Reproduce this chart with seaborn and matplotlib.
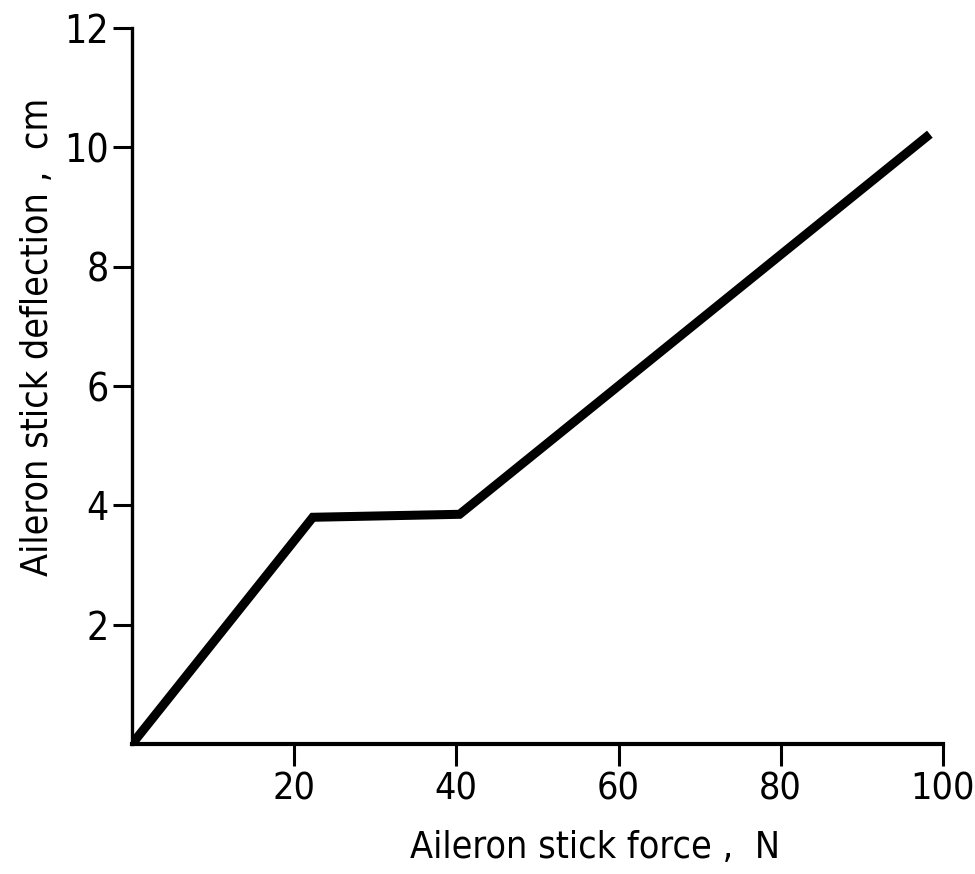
import matplotlib
matplotlib.use("Agg")
import matplotlib.pyplot as plt
import pandas as pd
import seaborn as sns

# values
stick_force = [0.0, 22.3, 40.4, 98.4]       # N
stick_deflection = [0.0, 3.80, 3.85, 10.22]  # cm
x_ticks = [20, 40, 60, 80, 100]
y_ticks = [2, 4, 6, 8, 10, 12]

df = pd.DataFrame({"force": stick_force, "deflection": stick_deflection})

sns.set_style("ticks")
plt.rcParams["font.family"] = ["Liberation Sans Narrow", "DejaVu Sans"]
plt.rcParams["font.stretch"] = "condensed"
plt.rcParams["text.color"] = "black"
plt.rcParams["axes.labelcolor"] = "black"

fig = plt.figure(figsize=(9.75, 8.74), dpi=100)
ax = fig.add_axes([0.1354, 0.1487, 0.967 - 0.1354, 0.968 - 0.1487])

sns.lineplot(data=df, x="force", y="deflection", ax=ax, color="black",
             linewidth=6.5, solid_joinstyle="miter", solid_capstyle="butt",
             sort=False)

ax.set_xlim(0, 100)
ax.set_ylim(0, 12)
ax.set_xticks(x_ticks)
ax.set_yticks(y_ticks)
ax.set_xticklabels([str(t) for t in x_ticks])
ax.set_yticklabels([str(t) for t in y_ticks])

for side in ["top", "right"]:
    ax.spines[side].set_visible(False)
ax.spines["bottom"].set_linewidth(3.0)
ax.spines["left"].set_linewidth(2.4)
ax.spines["bottom"].set_color("black")
ax.spines["left"].set_color("black")

ax.tick_params(axis="x", direction="out", length=16, width=2.2, pad=4,
               labelsize=27, colors="black")
ax.tick_params(axis="y", direction="out", length=14, width=2.2, pad=3,
               labelsize=28, colors="black")

ax.set_xlabel("Aileron stick force ,  N", fontsize=27)
ax.set_ylabel("Aileron stick deflection ,  cm", fontsize=27)
ax.xaxis.set_label_coords(0.571, -0.120)
ax.yaxis.set_label_coords(-0.094, 0.568)

fig.savefig("out.png", dpi=100, facecolor="white")
